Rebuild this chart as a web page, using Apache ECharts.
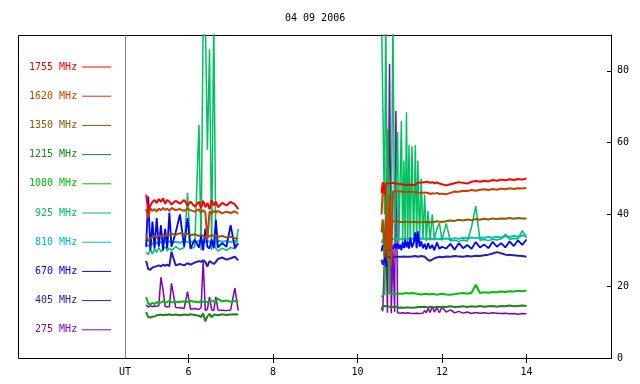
<!DOCTYPE html>
<html><head><meta charset="utf-8">
<script src="https://cdn.jsdelivr.net/npm/echarts@6/dist/echarts.min.js"></script>
<style>html,body{margin:0;padding:0;background:#fff}#c{width:640px;height:384px}</style>
</head><body><div id="c"></div>
<script>
const chartTitle = '04 09 2006';
const xTicks = [6, 8, 10, 12, 14];
const yTicks = [0, 20, 40, 60, 80];
const names = ['1755 MHz','1620 MHz','1350 MHz','1215 MHz','1080 MHz','925 MHz','810 MHz','670 MHz','405 MHz','275 MHz'];
const colors = ['#ff0000','#c84000','#8c5a00','#208020','#00c000','#00c060','#00c0c0','#0000ff','#2020c0','#8000c0'];
const widths = [2,2,2,2,2,1.5,2,1.8,2,1.5];

// UT hours, first and second observing intervals
const t1 = [5.00,5.05,5.10,5.15,5.20,5.25,5.30,5.35,5.40,5.45,5.50,5.55,5.60,5.70,5.80,5.90,5.98,6.05,6.15,6.25,6.30,6.35,6.40,6.45,6.50,6.55,6.60,6.65,6.70,6.80,6.90,7.00,7.10,7.18];
const t2 = [10.57,10.60,10.64,10.67,10.71,10.76,10.80,10.84,10.88,10.91,10.95,10.98,11.01,11.04,11.07,11.10,11.13,11.16,11.19,11.22,11.25,11.29,11.33,11.37,11.40,11.43,11.47,11.51,11.55,11.59,11.63,11.67,11.72,11.77,11.82,11.88,11.94,12.00,12.10,12.20,12.30,12.40,12.50,12.60,12.70,12.80,12.90,13.00,13.10,13.20,13.30,13.40,13.50,13.60,13.70,13.80,13.90,14.00];

const v1755a = [45.5,41,42.5,43.5,44,43.2,44.3,43.5,44.5,43,44,43.6,42.8,43.8,43,44,42.5,43.6,42.2,43.5,41.8,43.8,42,43.2,41.5,44,42.5,43.6,42,43.2,42.5,43.5,42.8,41.5];
const v1755b = [46,49,45.5,48.6,48.2,48.7,48.3,48.8,48.4,48.6,48.3,48.5,48.2,48.4,48.1,48.3,48,48.2,47.9,48.3,48,48.2,48.5,48.3,48.6,48.8,48.5,48.9,48.6,49,48.7,49.1,48.8,49,48.7,48.9,48.6,48.4,48.1,48.4,48.7,49,48.8,48.6,49.1,49.3,49.1,49.4,49.2,49.6,49.4,49.7,49.5,49.8,49.6,49.9,49.7,50];
const v1620a = [41.5,39,41.8,41,41.5,40.8,41.6,41.2,41.8,41.3,41.6,41,41.8,41.2,41.5,41,41.6,41.2,40.8,41.4,40.5,41.2,40.6,33,40.8,40.2,41,40.5,41,40.3,40.8,40.4,40.9,40.2];
const v1620b = [40,46.8,46.4,46.6,27,45.5,26,46.4,46.2,46.5,46.3,46.4,46.2,46.4,46.1,46.3,46,46.2,46,46.3,46.1,46.3,46,46.2,45.9,46.1,45.8,46,45.9,46.1,45.8,46,45.7,45.9,45.8,46,45.7,45.8,45.6,46,46.4,46.3,46.6,46.5,46.8,46.6,46.9,47,46.8,47.1,46.9,47.2,47,47.3,47.1,47.3,47.2,47.4];
const v1350a = [34.5,32.5,33.2,33.8,34,33.6,34.2,33.8,34.4,34,34.5,34.2,34.6,34.3,34.8,34.4,34.6,34.2,34.5,34,34.4,34,33.6,34.2,33.8,34.3,34,34.2,33.8,34,33.6,33.8,33.4,33.2];
const v1350b = [35,38.6,28,38.2,38.4,30,38.2,38.5,38.1,38.3,38.1,38.2,37.9,38.1,37.9,38.2,38,38.1,37.9,38,37.8,38,37.9,38.1,37.9,38,37.8,38,37.9,38.1,37.9,38,37.8,38,37.9,38.1,38,37.9,38.1,38.3,38.2,38.5,38.3,38.6,38.4,38.7,38.5,38.8,38.6,38.9,38.7,38.9,38.8,39,38.8,39,38.9,38.9];
const v1215a = [12.8,11.4,11.3,11.5,11.6,11.9,12,12.1,11.9,12.1,12,12.2,12,12.1,11.9,12.1,12,12.2,12,11.8,11.4,12.5,10.2,11.6,12.3,11.4,12,12.1,11.9,12.2,12,12.1,12.2,12.1];
const v1215b = [13.5,14.4,14.2,14.5,14.1,14.3,14,14.2,14.1,14.3,14.2,14,14.2,14.1,14.3,14,14.2,14.1,14.3,14.1,14.2,14,14.2,14.1,14.3,14.2,14,14.2,14.1,14.3,14.2,14.1,14.3,14.2,14.1,14.3,14.2,14.3,14.2,14.4,14.2,14.3,14.4,14.2,14.4,14.3,14.5,14.3,14.4,14.5,14.3,14.5,14.4,14.6,14.4,14.5,14.6,14.5];
const v1080a = [17,15.2,14.8,15.4,15,15.6,15.2,15.5,15.8,15.4,15.6,15.9,15.5,15.7,15.6,15.8,15.6,15.9,15.7,15.5,15.9,15.6,15.8,15.5,15.8,16,15.7,15.9,16.5,15.8,16,15.7,15.9,15.8];
const v1080b = [17,17.5,17.8,17.6,63.8,17.9,18,17.8,18.1,17.9,18.2,18,18.1,17.9,18.2,18,17.9,18.1,17.8,18,17.9,18.1,17.8,18,17.9,17.8,18,17.7,17.9,17.8,17.6,17.8,17.7,17.9,17.8,17.6,17.8,17.9,17.7,17.6,17.8,18,18.1,17.9,18.2,20.4,18.1,18.3,18.2,18.4,18.3,18.5,18.4,18.6,18.5,18.7,18.6,18.8];
const v925a = [29.5,28.8,30.2,29,30.5,29.4,30.8,29.6,30.4,31,29.8,30.6,30,31,30.2,30.8,46,30.4,31,65,30,95,95,58,86,30,95,30.5,29.8,30.6,30,30.8,30.4,36];
const v925b = [95,95,40,95,33,32,33,95,32,32.5,63,32,32.5,66,32,55,32.5,68.5,32,59.3,32.5,59,32,59.3,32.5,55,32.5,50,33,45.5,32.5,41,32.8,40,33,36,37.6,32.8,37.5,32.6,32.8,32.5,32.9,32.6,36.5,42.3,32.8,33,32.7,33.1,32.9,33.2,34.5,33.1,33.3,33.2,35.5,33.5];
const v810a = [31,31.5,31.2,32,31.6,32.2,31.8,32.4,32,32.5,32.1,32.6,32.2,32.4,32.1,32.6,32.3,32.5,32.2,32.6,32.4,32.8,32.3,32.6,32.4,32.7,32.5,32.3,32.7,32.4,32.6,32.3,32.7,32.5];
const v810b = [32,33,32.5,33.2,32.8,33,32.7,33.1,32.9,33.2,33,33.2,32.9,33.1,33,33.3,33,33.2,33.1,33.3,33,33.2,33.1,33.3,33,33.2,33.1,33.3,33.1,33.2,33,33.3,33.1,33.2,33,33.3,33.1,33.2,33.3,33.1,33.4,33.2,33.5,33.3,33.6,33.4,33.6,33.5,33.7,33.5,33.8,33.6,33.9,33.7,34,33.8,34.1,34.1];
const v670a = [31,45,30,38,30.5,39,31,37,30,36,30.5,40.5,31,35,40,31,39,30.5,33,30.8,34,30,36,31,30.5,33,30.6,38.5,30.8,32,31,37,30.6,32];
const v670b = [29.7,31.5,30,25.5,31,29.8,31.5,30.2,31.8,30.5,32,30.4,31.6,30,32.2,30.6,33,30.8,32.4,30.5,33.5,30.8,32,35,30.6,35.3,31,32.5,30.6,31.8,30.2,32,30.5,31.5,30,32.2,30.4,31,30.5,31.8,30.2,32,30.6,31.5,30.4,32.3,30.8,31.6,30.6,32.4,31,32,30.8,32.5,31.2,32.8,31.5,33];
const v405a = [27,24.8,24.6,25.2,25.4,25.6,25.8,25.5,26,25.7,26,25.6,29.6,25.8,26.2,25.8,26.4,26,26.6,27,26.8,27.2,26.8,25.5,27,26.6,26.2,26.8,27.6,28,27.4,27.8,28.2,27.2];
const v405b = [27.4,26,27.6,28,28.2,28.1,28.3,28.2,28.3,28.2,28.3,28.2,28.3,28.2,28.4,28.3,28.4,28.2,28.3,28.2,28.4,28.3,28.2,28.4,28.3,28.2,28.3,28.4,28.3,28.2,27.8,27.3,27.1,27.4,27.8,28,28.2,28.1,28.3,28.2,28.4,28.3,28.2,28.4,28.3,28.5,28.4,28.6,28.8,29.1,29.5,29.2,28.8,28.7,28.6,28.5,28.4,28.2];
const v275a = [14.8,14.2,14.6,14.3,14.5,14.4,14.6,22.5,19,14.4,14.2,14.3,20.8,14.1,14,13.8,18.5,13.6,13.8,13.5,14,27,13.2,13.6,17,13.4,13.2,17,13.4,13.3,13.2,13.4,19.5,13.2];
const v275b = [14,13,12.5,40,12.6,82,12.5,30,12.8,68.8,12.6,12.8,12.5,13,12.6,12.9,12.5,12.8,12.6,13,12.5,12.9,12.4,12.8,12.5,12.7,12.4,12.9,12.5,13.2,12.6,13.8,12.7,14.4,12.8,14,12.6,14.2,12.8,13.4,12.6,13,12.5,12.8,12.4,12.7,12.5,12.6,12.4,12.6,12.5,12.4,12.5,12.3,12.4,12.2,12.4,12.3];

const valuesA = [v1755a,v1620a,v1350a,v1215a,v1080a,v925a,v810a,v670a,v405a,v275a];
const valuesB = [v1755b,v1620b,v1350b,v1215b,v1080b,v925b,v810b,v670b,v405b,v275b];
const drawOrder = [9,3,4,8,6,5,7,2,1,0];

function mk(a, b) {
  return t1.map((t, i) => [t, a[i]]).concat([[8.9, null]], t2.map((t, i) => [t, b[i]]));
}

const FONT = 'DejaVu Sans Mono';
const chart = echarts.init(document.getElementById('c'));
const series = drawOrder.map(k => ({
  type: 'line', name: names[k], data: mk(valuesA[k], valuesB[k]),
  xAxisIndex: 0, yAxisIndex: 0,
  symbol: 'none', showSymbol: false, connectNulls: false, clip: true,
  lineStyle: { width: widths[k], color: colors[k] }, itemStyle: { color: colors[k] },
  emphasis: { disabled: true }
}));

chart.setOption({
  animation: false,
  backgroundColor: '#fff',
  title: { text: chartTitle, left: 285, top: 13, padding: 0,
    textStyle: { fontFamily: FONT, fontSize: 10, fontWeight: 'normal', color: '#000' } },
  grid: { left: 125, right: 29, top: 35, bottom: 26 },
  legend: {
    orient: 'vertical', left: 29, top: 60, align: 'right', padding: 0,
    itemWidth: 29, itemHeight: 1, itemGap: 15.2, icon: 'rect', selectedMode: false,
    textStyle: { fontFamily: FONT, fontSize: 10, lineHeight: 14 },
    data: names.map((n, k) => ({ name: n, textStyle: { color: colors[k] } }))
  },
  graphic: [{
    type: 'rect', silent: true, z: -1,
    shape: { x: 18.5, y: 35.5, width: 593, height: 323 },
    style: { fill: null, stroke: '#000', lineWidth: 1 }
  }],
  xAxis: [{
    type: 'value', min: 4.5, max: 16, position: 'bottom',
    axisLine: { lineStyle: { color: '#000', width: 1 } },
    axisTick: { inside: true, length: 4, customValues: xTicks, lineStyle: { color: '#000' } },
    axisLabel: { customValues: [4.5].concat(xTicks), formatter: v => (v === 4.5 ? 'UT' : String(v)),
      color: '#000', fontFamily: FONT, fontSize: 10, margin: 9 },
    splitLine: { show: false }
  }, {
    type: 'value', min: 4.5, max: 16, position: 'top',
    axisLine: { lineStyle: { color: '#000', width: 1 } },
    axisTick: { inside: true, length: 5, customValues: xTicks, lineStyle: { color: '#000' } },
    axisLabel: { show: false }, splitLine: { show: false }
  }],
  yAxis: [{
    type: 'value', min: 0, max: 90, position: 'right',
    axisLine: { show: true, lineStyle: { color: '#000', width: 1 } },
    axisTick: { show: true, inside: true, length: 4, customValues: yTicks, lineStyle: { color: '#000' } },
    axisLabel: { customValues: yTicks, color: '#000', fontFamily: FONT, fontSize: 10, margin: 6 },
    splitLine: { show: false }
  }, {
    type: 'value', min: 0, max: 90, position: 'left',
    axisLine: { show: true, lineStyle: { color: '#808080', width: 1 } },
    axisTick: { show: false }, axisLabel: { show: false }, splitLine: { show: false }
  }],
  series: series
});
</script>
</body></html>
